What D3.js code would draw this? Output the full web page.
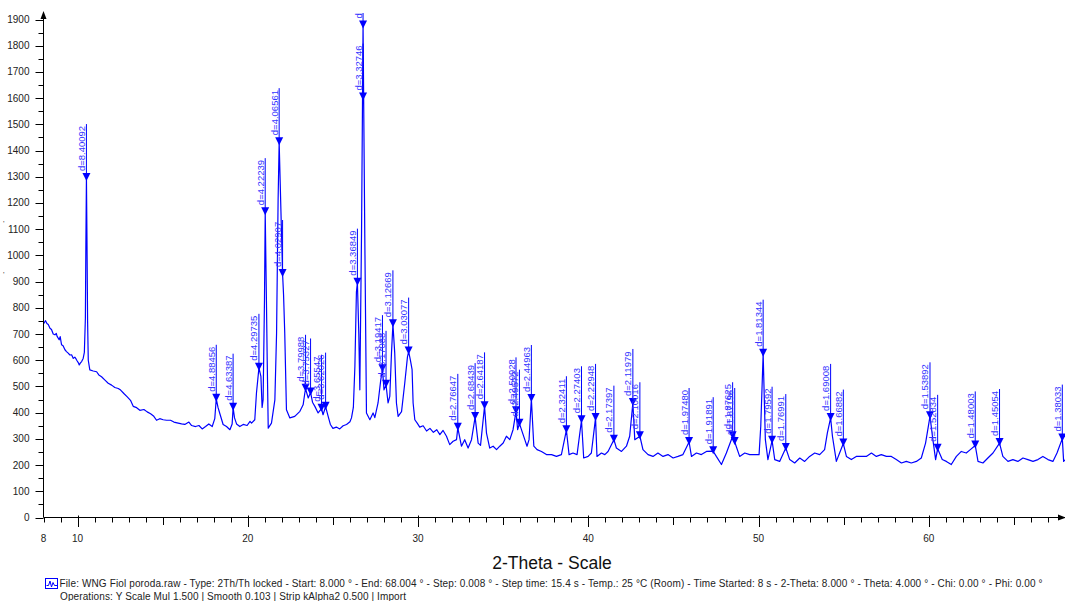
<!DOCTYPE html>
<html>
<head>
<meta charset="utf-8">
<script src="https://cdn.jsdelivr.net/npm/d3@7"></script>
<style>
  html, body { margin: 0; padding: 0; background: #fff; }
  svg { display: block; font-family: "Liberation Sans", Arial, sans-serif; }
</style>
</head>
<body>
<div id="chart"></div>
<script>
// scan: [2-theta, counts]
const scan = [
  [8.00,738],[8.06,745],[8.12,751],[8.20,740],[8.28,736],[8.38,722],[8.47,717],[8.57,700],[8.67,697],[8.75,702],
  [8.80,691],[8.92,678],[8.98,690],[9.06,659],[9.15,655],[9.26,640],[9.35,633],[9.45,627],[9.55,620],[9.65,621],
  [9.75,607],[9.84,612],[9.92,604],[9.98,597],[10.05,590],[10.10,582],[10.17,590],[10.24,595],[10.33,607],[10.40,630],
  [10.46,760],[10.49,1050],[10.522,1295],[10.555,1050],[10.59,750],[10.63,600],[10.72,563],[10.92,559],[11.12,556],[11.25,544],
  [11.41,537],[11.61,524],[11.80,512],[12.00,505],[12.19,496],[12.39,492],[12.53,486],[12.72,473],[12.92,460],[13.11,447],
  [13.27,424],[13.47,419],[13.66,409],[13.90,412],[14.09,403],[14.29,396],[14.48,386],[14.64,371],[14.83,377],[15.03,373],
  [15.23,371],[15.46,371],[15.66,364],[15.91,360],[16.11,357],[16.30,355],[16.54,364],[16.70,351],[16.93,347],[17.13,351],
  [17.32,338],[17.52,347],[17.71,357],[17.91,347],[18.06,377],[18.147,453],[18.25,420],[18.36,396],[18.55,355],[18.75,347],
  [18.95,335],[19.08,357],[19.137,419],[19.22,380],[19.34,357],[19.53,347],[19.73,355],[19.96,351],[20.13,367],[20.22,360],
  [20.41,373],[20.51,476],[20.654,571],[20.77,538],[20.84,420],[20.90,450],[20.98,830],[21.023,1165],[21.10,800],[21.14,600],
  [21.20,341],[21.39,360],[21.59,449],[21.69,703],[21.78,1211],[21.842,1432],[21.98,1084],[22.043,929],[22.10,850],[22.17,704],
  [22.27,411],[22.47,380],[22.76,386],[23.06,405],[23.25,430],[23.35,475],[23.392,491],[23.55,456],[23.687,477],[23.80,440],
  [23.94,424],[24.13,399],[24.33,415],[24.42,392],[24.57,423],[24.72,386],[24.85,355],[25.00,340],[25.20,345],[25.40,338],
  [25.60,350],[25.80,355],[26.00,365],[26.09,380],[26.20,420],[26.29,576],[26.38,860],[26.438,896],[26.52,700],[26.58,487],
  [26.68,1084],[26.77,1877],[26.87,1084],[26.97,399],[27.17,373],[27.36,399],[27.46,381],[27.65,437],[27.81,525],[27.91,566],
  [28.00,487],[28.12,506],[28.24,437],[28.34,462],[28.44,628],[28.524,737],[28.63,628],[28.73,437],[28.83,386],[29.03,404],
  [29.22,513],[29.38,614],[29.448,633],[29.55,600],[29.65,564],[29.71,437],[29.81,373],[29.95,360],[30.10,345],[30.30,350],
  [30.50,330],[30.70,340],[30.90,325],[31.10,335],[31.28,316],[31.47,332],[31.67,310],[31.86,278],[32.06,291],[32.26,297],
  [32.335,342],[32.55,272],[32.74,297],[32.94,265],[33.14,297],[33.352,383],[33.53,284],[33.67,275],[33.906,424],[34.02,322],
  [34.21,265],[34.41,272],[34.61,259],[34.80,272],[35.00,284],[35.19,310],[35.39,297],[35.58,335],[35.754,405],[35.85,335],
  [35.956,358],[36.27,297],[36.40,272],[36.52,297],[36.656,452],[36.80,272],[36.99,259],[37.25,252],[37.54,240],[37.84,240],
  [38.13,233],[38.42,240],[38.714,333],[38.87,240],[39.10,246],[39.34,240],[39.60,371],[39.73,227],[39.99,233],[40.18,246],
  [40.426,380],[40.51,233],[40.77,246],[40.97,240],[41.16,252],[41.504,297],[41.65,265],[41.95,252],[42.24,272],[42.43,310],
  [42.618,437],[42.73,297],[43.03,310],[43.21,259],[43.51,240],[43.80,233],[44.09,246],[44.39,233],[44.68,240],[44.98,227],
  [45.27,233],[45.56,240],[45.92,288],[46.06,233],[46.35,246],[46.64,240],[46.94,252],[47.336,253],[47.52,233],[47.82,202],
  [48.11,246],[48.478,310],[48.60,288],[48.89,233],[49.19,246],[49.48,240],[49.77,240],[50.03,240],[50.13,348],[50.27,625],
  [50.40,297],[50.55,221],[50.795,293],[50.95,221],[51.24,214],[51.60,265],[51.83,221],[52.12,208],[52.42,227],[52.71,214],
  [53.00,233],[53.30,246],[53.59,240],[53.88,259],[54.04,322],[54.233,380],[54.34,310],[54.57,214],[54.76,246],[54.98,282],
  [55.16,233],[55.45,221],[55.74,233],[56.04,233],[56.33,233],[56.63,246],[56.92,233],[57.21,240],[57.51,233],[57.80,233],
  [58.09,221],[58.39,208],[58.68,214],[58.97,208],[59.27,214],[59.56,227],[59.81,284],[60.07,386],[60.24,297],[60.40,221],
  [60.52,262],[60.79,221],[61.03,214],[61.32,202],[61.62,233],[61.91,252],[62.20,246],[62.44,259],[62.728,275],[62.89,214],
  [63.18,208],[63.47,227],[63.77,246],[64.155,284],[64.35,233],[64.65,214],[64.94,221],[65.23,214],[65.53,227],[65.82,221],
  [66.12,214],[66.41,221],[66.70,233],[67.00,221],[67.29,214],[67.53,246],[67.842,301],[67.92,214],[68.00,220]
];

// peak markers: [2-theta, counts, label]
const peaks = [
  [10.522,1295,"d=8.40092"],[18.147,453,"d=4.88456"],[19.137,419,"d=4.63387"],[20.654,571,"d=4.29735"],
  [21.023,1165,"d=4.22239"],[21.842,1432,"d=4.06561"],[22.043,929,"d=4.02907"],[23.392,491,"d=3.79988"],
  [23.687,477,"d=3.75327"],[24.33,415,"d=3.65547"],[24.57,423,"d=3.62026"],[26.438,896,"d=3.36849"],
  [26.77,1877,"d=3.32746"],[26.77,1602,"d=3.32746"],[27.91,566,"d=3.19417"],[28.12,506,"d=3.17088"],
  [28.524,737,"d=3.12669"],[29.448,633,"d=3.03077"],[32.335,342,"d=2.76647"],[33.352,383,"d=2.68439"],
  [33.906,424,"d=2.64187"],[35.754,405,"d=2.50928"],[35.956,358,"d=2.49572"],[36.656,452,"d=2.44963"],
  [38.714,333,"d=2.32411"],[39.60,371,"d=2.27403"],[40.426,380,"d=2.22948"],[41.504,297,"d=2.17397"],
  [42.618,437,"d=2.11979"],[43.03,310,"d=2.10016"],[45.92,288,"d=1.97480"],[47.336,253,"d=1.91891"],
  [48.478,310,"d=1.87625"],[48.60,288,"d=1.87196"],[50.27,625,"d=1.81344"],[50.795,293,"d=1.79592"],
  [51.60,265,"d=1.76991"],[54.233,380,"d=1.69008"],[54.98,282,"d=1.66882"],[60.07,386,"d=1.53892"],
  [60.52,262,"d=1.52834"],[62.728,275,"d=1.48003"],[64.155,284,"d=1.45054"],[67.842,301,"d=1.38033"]
];

const yTicks = d3.range(0, 1901, 100);
const xLabels = [8, 10, 20, 30, 40, 50, 60];
const xTitle = "2-Theta - Scale";
const footer1 = "File: WNG Fiol poroda.raw - Type: 2Th/Th locked - Start: 8.000 ° - End: 68.004 ° - Step: 0.008 ° - Step time: 15.4 s - Temp.: 25 °C (Room) - Time Started: 8 s - 2-Theta: 8.000 ° - Theta: 4.000 ° - Chi: 0.00 ° - Phi: 0.00 °";
const footer2 = "Operations: Y Scale Mul  1.500 | Smooth 0.103 | Strip kAlpha2 0.500 | Import";

const width = 1065, height = 601;
const blue = "#0000ff";

const svg = d3.select("#chart").append("svg")
  .attr("width", width)
  .attr("height", height);

svg.append("rect").attr("width", width).attr("height", height).attr("fill", "#fff");

const x = d3.scaleLinear().domain([8, 68]).range([43.5, 1065]);
const y = d3.scaleLinear().domain([0, 1900]).range([517.5, 19.5]);

svg.append("defs").append("clipPath").attr("id", "plot")
  .append("rect").attr("x", 43).attr("y", 13).attr("width", width - 43).attr("height", 505);

const plot = svg.append("g").attr("clip-path", "url(#plot)");

// the scan itself
plot.append("path")
  .datum(scan)
  .attr("fill", "none")
  .attr("stroke", blue)
  .attr("stroke-width", 1.2)
  .attr("stroke-linejoin", "round")
  .attr("d", d3.line().x(d => x(d[0])).y(d => y(d[1])));

// peak markers: line up from the peak, triangle, rotated d-label
const mk = plot.selectAll("g.peak")
  .data(peaks)
  .join("g")
  .attr("class", "peak")
  .attr("transform", d => `translate(${x(d[0])},${y(d[1])})`);

mk.append("line")
  .attr("x1", 0).attr("x2", 0)
  .attr("y1", 0).attr("y2", -54)
  .attr("stroke", blue)
  .attr("stroke-width", 1);

mk.append("path")
  .attr("d", "M-4,-5L4,-5L0,3Z")
  .attr("fill", blue);

mk.append("text")
  .attr("transform", "translate(-1.5,-7) rotate(-90)")
  .attr("font-size", "9.5px")
  .attr("fill", "#3434ff")
  .text(d => d[2]);

// axes
const axisColor = "#000";
const yAxis = svg.append("g");
yAxis.append("line")
  .attr("x1", 43.5).attr("x2", 43.5).attr("y1", 517.5).attr("y2", 13)
  .attr("stroke", axisColor);
yAxis.append("path").attr("d", "M43.5,11L40.5,19L46.5,19Z").attr("fill", axisColor);

yAxis.selectAll("line.major")
  .data(yTicks).join("line").attr("class", "major")
  .attr("x1", 35.5).attr("x2", 43.5)
  .attr("y1", d => Math.round(y(d)) + 0.5).attr("y2", d => Math.round(y(d)) + 0.5)
  .attr("stroke", axisColor);

yAxis.selectAll("line.minor")
  .data(yTicks.slice(0, -1).map(v => v + 50)).join("line").attr("class", "minor")
  .attr("x1", 38.5).attr("x2", 43.5)
  .attr("y1", d => Math.round(y(d)) + 0.5).attr("y2", d => Math.round(y(d)) + 0.5)
  .attr("stroke", axisColor);

yAxis.selectAll("text")
  .data(yTicks).join("text")
  .attr("x", 29.5)
  .attr("y", d => y(d) + 3.5)
  .attr("text-anchor", "end")
  .attr("font-size", "10px")
  .attr("fill", "#222")
  .text(d => d);

const xAxis = svg.append("g");
xAxis.append("line")
  .attr("x1", 43.5).attr("x2", 1065).attr("y1", 517.5).attr("y2", 517.5)
  .attr("stroke", axisColor);
xAxis.append("path").attr("d", "M1066,517.5L1058,514.5L1058,520.5Z").attr("fill", axisColor);

xAxis.selectAll("line.tick")
  .data(d3.range(8, 68))
  .join("line").attr("class", "tick")
  .attr("x1", d => Math.round(x(d)) + 0.5).attr("x2", d => Math.round(x(d)) + 0.5)
  .attr("y1", d => d % 10 === 0 ? 515.5 : 517.5)
  .attr("y2", d => d % 10 === 0 ? 527 : (d % 5 === 0 ? 525 : 522.5))
  .attr("stroke", axisColor);

xAxis.selectAll("text")
  .data(xLabels).join("text")
  .attr("x", d => x(d))
  .attr("y", 542)
  .attr("text-anchor", "middle")
  .attr("font-size", "10px")
  .attr("fill", "#222")
  .text(d => d);

svg.append("text")
  .attr("x", 552).attr("y", 568.5)
  .attr("text-anchor", "middle")
  .attr("font-size", "17.5px")
  .attr("fill", "#111")
  .text(xTitle);

// stray marks at the far left
svg.selectAll("text.stray").data([226, 277]).join("text").attr("class", "stray")
  .attr("x", 3).attr("y", d => d).attr("font-size", "8px").attr("fill", "#444").text("'");

// footer with small scan icon
const foot = svg.append("g");
foot.append("rect")
  .attr("x", 45.5).attr("y", 578.5).attr("width", 12).attr("height", 10)
  .attr("fill", "#fff").attr("stroke", blue);
foot.append("path")
  .attr("d", "M46.5,585.5L48.5,585.5L50,581L51.5,587L53,582.5L54.5,585.5L57,585.5")
  .attr("fill", "none").attr("stroke", blue).attr("stroke-width", 1);

foot.append("text")
  .attr("x", 59.5).attr("y", 587)
  .attr("font-size", "10px").attr("fill", "#222")
  .attr("textLength", 983).attr("lengthAdjust", "spacing")
  .text(footer1);

foot.append("text")
  .attr("x", 60).attr("y", 599.5)
  .attr("font-size", "10px").attr("fill", "#222")
  .attr("textLength", 346).attr("lengthAdjust", "spacing")
  .text(footer2);
</script>
</body>
</html>
